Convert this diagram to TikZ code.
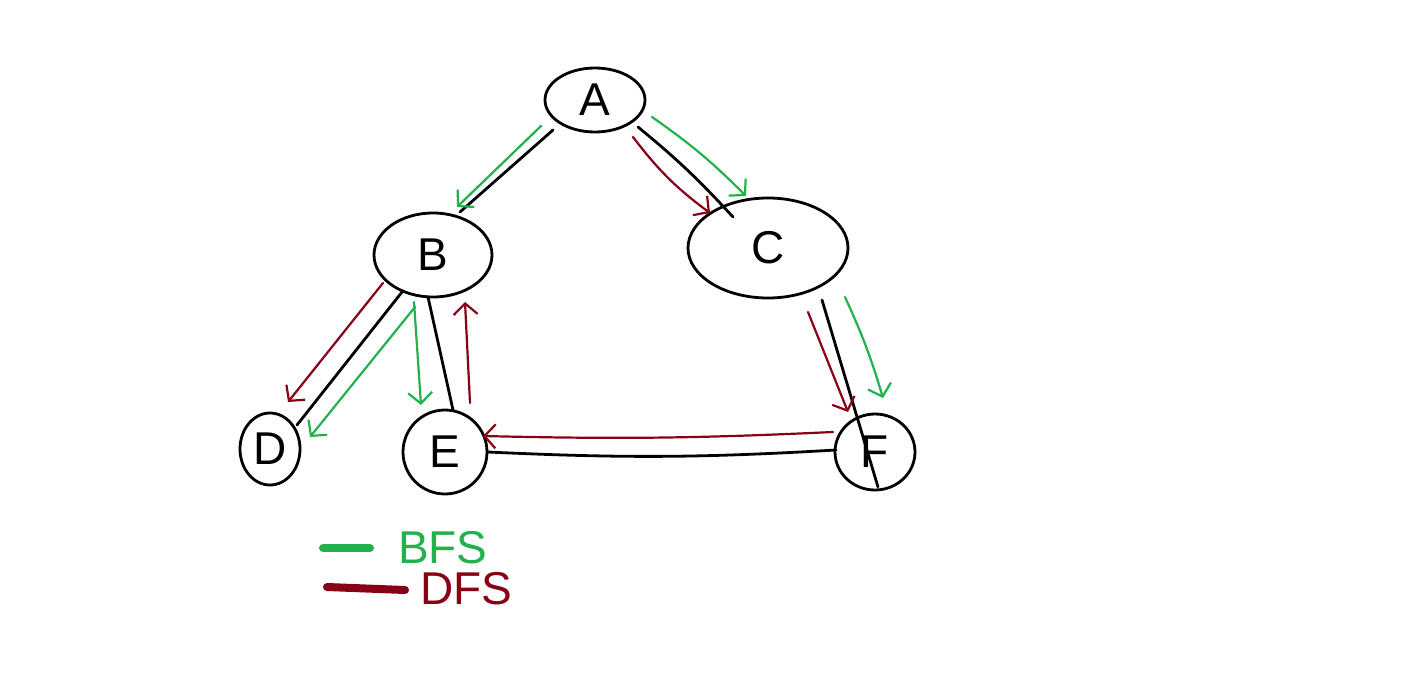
\documentclass[tikz,border=0pt]{standalone}
\usepackage{fontspec}
\setmainfont{Liberation Sans}
\usetikzlibrary{shapes.geometric,arrows.meta}
\definecolor{bfsgreen}{RGB}{34,177,76}
\definecolor{dfsred}{RGB}{136,0,21}
\begin{document}
\begin{tikzpicture}[x=1pt,y=-1pt,
  vertex/.style={ellipse,draw,line width=2.8pt,inner sep=0pt,font=\fontsize{46}{46}\selectfont},
  edge/.style={line width=2.8pt,line cap=round},
  bfs/.style={draw=bfsgreen,line width=2.2pt,line cap=round,-{Straight Barb[length=11pt,width=24pt,line width=2.2pt]}},
  dfs/.style={draw=dfsred,line width=2.2pt,line cap=round,-{Straight Barb[length=11pt,width=24pt,line width=2.2pt]}},
  legbar/.style={line width=8pt,line cap=round},
  legtext/.style={font=\fontsize{46}{46}\selectfont,inner sep=0pt}]
\fill[white] (0,0) rectangle (1418,680);
\useasboundingbox (0,0) rectangle (1418,680);

% vertices
\node[vertex,minimum width=100pt,minimum height=64pt] (A) at (595,100) {A};
\node[vertex,minimum width=118pt,minimum height=84pt] (B) at (433,255) {B};
\node[vertex,minimum width=160pt,minimum height=100pt] (C) at (768,248) {C};
\node[vertex,minimum width=60pt,minimum height=72pt] (D) at (270,449) {D};
\node[vertex,minimum width=84pt,minimum height=84pt] (E) at (445,452) {E};
\node[vertex,minimum width=80pt,minimum height=76pt] (F) at (875,452) {F};

% black edges
\draw[edge] ([shift={(-42,30)}]A.center) -- ([shift={(27,-43)}]B.center);
\draw[edge] ([shift={(43,27)}]A.center) to[bend left=4] ([shift={(-35,-31)}]C.center);
\draw[edge] ([shift={(-31,37)}]B.center) -- ([shift={(27,-24)}]D.center);
\draw[edge] ([shift={(-5,42)}]B.center) -- ([shift={(8,-42)}]E.center);
\draw[edge] ([shift={(54,52)}]C.center) -- ([shift={(3,35)}]F.center);
\draw[edge] ([shift={(43,0)}]E.center) to[bend right=3] ([shift={(-39,-2)}]F.center);

% BFS arrows
\draw[bfs] ([shift={(-54,26)}]A.center) -- ([shift={(24,-48)}]B.center);
\draw[bfs] ([shift={(57,17)}]A.center) to[bend left=5] ([shift={(-22,-52)}]C.center);
\draw[bfs] ([shift={(-18,52)}]B.center) -- ([shift={(40,-12)}]D.center);
\draw[bfs] ([shift={(-19,47)}]B.center) -- ([shift={(-24,-47)}]E.center);
\draw[bfs] ([shift={(77,49)}]C.center) to[bend left=4] ([shift={(8,-54)}]F.center);

% DFS arrows
\draw[dfs] ([shift={(38,37)}]A.center) to[bend right=8] ([shift={(-58,-35)}]C.center);
\draw[dfs] ([shift={(-50,28)}]B.center) -- ([shift={(18,-47)}]D.center);
\draw[dfs] ([shift={(25,-49)}]E.center) -- ([shift={(32,47)}]B.center);
\draw[dfs] ([shift={(40,64)}]C.center) -- ([shift={(-27,-40)}]F.center);
\draw[dfs] ([shift={(-42,-20)}]F.center) to[bend left=2] ([shift={(38,-16)}]E.center);

% legend
\coordinate (g1) at (323,548);
\coordinate (g2) at (370,548);
\coordinate (r1) at (327,587);
\coordinate (r2) at (405,590);
\draw[legbar,bfsgreen] (g1) -- (g2);
\draw[legbar,dfsred] (r1) -- (r2);
\node[legtext,text=bfsgreen,anchor=west] (bfslabel) at (398,548) {BFS};
\node[legtext,text=dfsred,anchor=west] (dfslabel) at (420,589) {DFS};
\end{tikzpicture}
\end{document}
